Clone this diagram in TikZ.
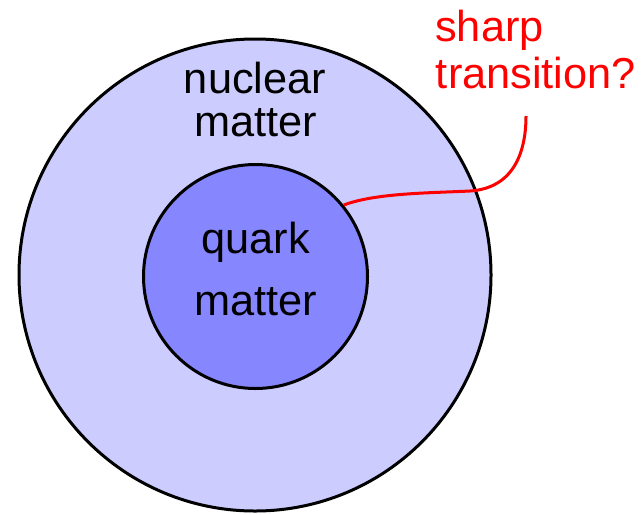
\documentclass[tikz,border=0pt]{standalone}
\usepackage{fontspec}
\setmainfont{Liberation Sans}
\definecolor{outerfill}{RGB}{204,204,255}
\definecolor{innerfill}{RGB}{134,134,255}
\definecolor{annot}{RGB}{255,0,0}
\begin{document}
\begin{tikzpicture}[x=0.75pt,y=-0.75pt,
  disc/.style={circle,draw=black,line width=2.25pt,inner sep=0pt},
  lbl/.style={anchor=base,inner sep=0pt,font=\fontsize{32.5pt}{39pt}\selectfont},
  redlbl/.style={anchor=base west,inner sep=0pt,text=annot,font=\fontsize{32.5pt}{39pt}\selectfont},
  link/.style={draw=annot,line width=2.25pt}]
\useasboundingbox (0,0) rectangle (641,514);
\node[disc,fill=outerfill,minimum size=354pt] (outer) at (255,275) {};
\node[disc,fill=innerfill,minimum size=168pt] (inner) at (255.5,276.5) {};
\node[lbl] (nuc1) at (255,93.3) {nuclear};
\node[lbl] (nuc2) at (256,136.7) {matter};
\node[lbl] (qk1) at (255.5,253) {quark};
\node[lbl] (qk2) at (256,315) {matter};
\node[redlbl] (sh1) at (435,41.7) {sharp};
\node[redlbl] (sh2) at (435.7,88.3) {transition?};
\coordinate (tip) at (526,116);
\coordinate (mid) at (470,191);
\draw[link] (inner.39.2) .. controls (375,193) and (430,193) .. (mid)
  .. controls (515,188) and (526,150) .. (tip);
\end{tikzpicture}
\end{document}
